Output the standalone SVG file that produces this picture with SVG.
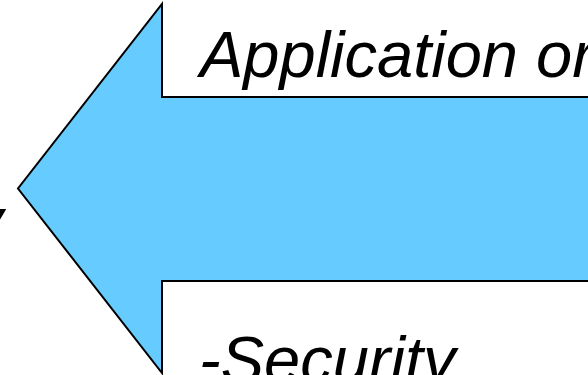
<svg xmlns="http://www.w3.org/2000/svg" width="588" height="375" viewBox="0 0 588 375">
<style>
.t{font-family:"Liberation Sans",Arial,sans-serif;font-style:italic;font-size:65px;fill:#000}
</style>
<rect width="588" height="375" fill="#fff"/>
<g id="arrow">
<path d="M600,97 L162,97 L162,4 L18,188.5 L162,373 L162,281 L600,281" fill="#66ccff" stroke="#000" stroke-width="2" stroke-linejoin="miter"/>
</g>
<g id="labels">
<text class="t" x="200" y="77">Application or</text>
<text class="t" x="199" y="382">-Security</text>
<text class="t" x="3" y="243" text-anchor="end">y</text>
</g>
</svg>
